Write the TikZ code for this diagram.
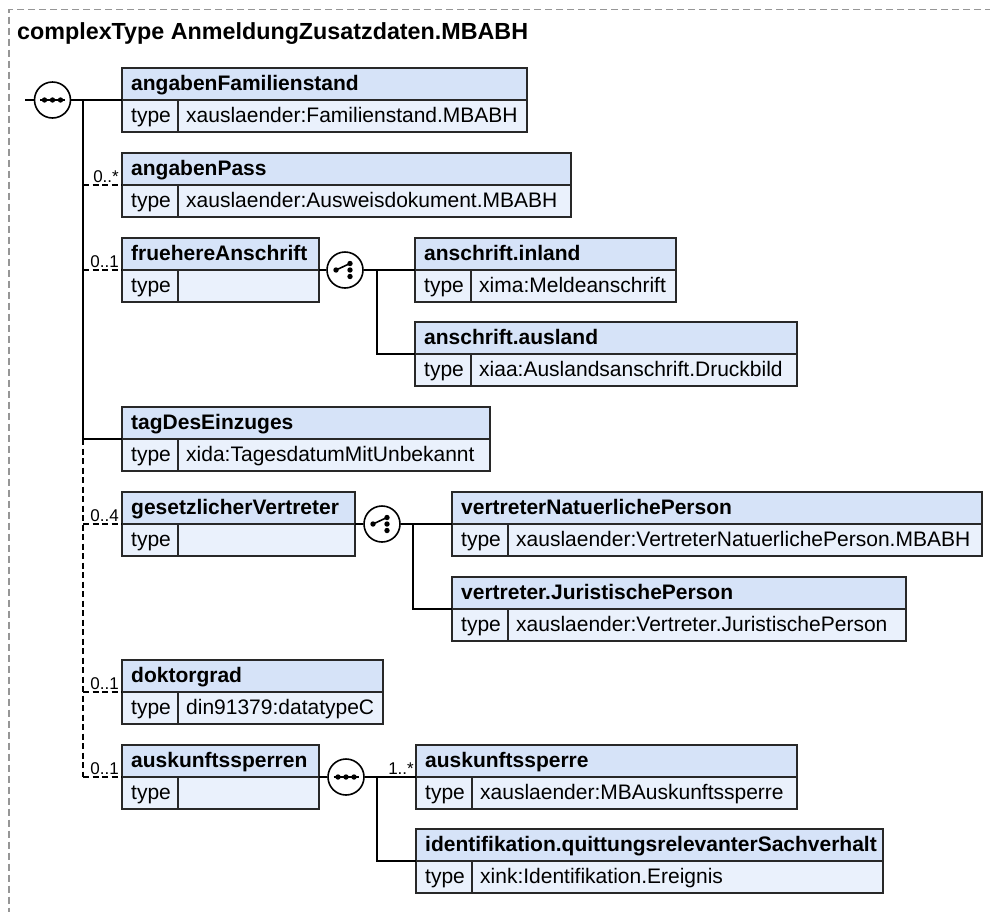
\documentclass[tikz,border=0pt]{standalone}
\usepackage{fontspec}
\setmainfont{Liberation Sans}
\usetikzlibrary{calc}
\definecolor{hdrfill}{RGB}{214,227,248}
\definecolor{rowfill}{RGB}{234,241,252}
\definecolor{boxdraw}{RGB}{40,40,40}
\definecolor{framegray}{RGB}{150,150,150}
\tikzset{
  hdrbox/.style={fill=hdrfill,draw=boxdraw,line width=1.4pt},
  rowbox/.style={fill=rowfill,draw=boxdraw,line width=1.4pt},
  boxline/.style={draw=boxdraw,line width=1.4pt},
  hdrtext/.style={anchor=base west,inner sep=0pt,font=\fontsize{21}{25}\selectfont\bfseries},
  rowtext/.style={anchor=base west,inner sep=0pt,font=\fontsize{21}{25}\selectfont},
  occtext/.style={anchor=base east,inner sep=0pt,font=\fontsize{17}{20}\selectfont},
  conn/.style={draw=black,line width=1.5pt},
  connopt/.style={draw=black,line width=1.5pt,dash pattern=on 6pt off 3.5pt},
  grpc/.style={circle,draw=black,fill=white,line width=1.6pt,minimum size=36pt,inner sep=0pt},
  frameline/.style={draw=framegray,line width=1.2pt,dash pattern=on 7pt off 4pt},
}
\newcommand{\xbox}[6]{%
  \path[hdrbox] (#2,#3) rectangle ({#4},{#3+32});
  \path[rowbox] (#2,{#3+32}) rectangle ({#4},{#3+64});
  \path[boxline] ({#2+56},{#3+32}) -- ({#2+56},{#3+64});
  \node[hdrtext] (#1) at ({#2+9},{#3+22}) {#5};
  \node[rowtext] (#1-t) at ({#2+9},{#3+54}) {type};
  \node[rowtext] (#1-v) at ({#2+64},{#3+54}) {#6};
  \coordinate (#1-w) at (#2,{#3+32});
  \coordinate (#1-e) at ({#4},{#3+32});
}
\newcommand{\seqicon}[1]{%
  \begin{scope}[shift={(#1.center)}]
    \draw[line width=1.6pt] (-12.5,0) -- (12.5,0);
    \fill (-8,0) circle (2.7pt) (0,0) circle (2.7pt) (8,0) circle (2.7pt);
  \end{scope}}
\newcommand{\choiceicon}[1]{%
  \begin{scope}[shift={(#1.center)}]
    \draw[line width=1.6pt] (-9,0) -- (5,-6.5);
    \fill (-9,0) circle (2.7pt) (5,-6.5) circle (2.7pt) (5,0) circle (2.7pt) (5,6.5) circle (2.7pt);
  \end{scope}}
\begin{document}
\begin{tikzpicture}[x=1pt,y=-1pt]
\useasboundingbox (0,0) rectangle (990,911);
% frame
\coordinate (fr-tl) at (9,9.5);
\coordinate (fr-tr) at (992,9.5);
\coordinate (fr-bl) at (9,913);
\draw[frameline] (fr-tr) -- (fr-tl) -- (fr-bl);
\node[anchor=base west,inner sep=0pt,font=\fontsize{23.3}{27}\selectfont\bfseries] (title) at (17,39) {complexType AnmeldungZusatzdaten.MBABH};

% boxes
\xbox{fam}{122}{68}{527}{angabenFamilienstand}{xauslaender:Familienstand.MBABH}
\xbox{pass}{122}{153}{571}{angabenPass}{xauslaender:Ausweisdokument.MBABH}
\xbox{frueh}{122}{238}{319}{fruehereAnschrift}{}
\xbox{inl}{415}{238}{676}{anschrift.inland}{xima:Meldeanschrift}
\xbox{ausl}{415}{322}{797}{anschrift.ausland}{xiaa:Auslandsanschrift.Druckbild}
\xbox{tag}{122}{407}{490}{tagDesEinzuges}{xida:TagesdatumMitUnbekannt}
\xbox{gesetz}{122}{492}{355}{gesetzlicherVertreter}{}
\xbox{vnp}{452}{492}{982}{vertreterNatuerlichePerson}{xauslaender:VertreterNatuerlichePerson.MBABH}
\xbox{vjp}{452}{577}{906}{vertreter.JuristischePerson}{xauslaender:Vertreter.JuristischePerson}
\xbox{dok}{122}{660}{383}{doktorgrad}{din91379:datatypeC}
\xbox{ausks}{122}{745}{319}{auskunftssperren}{}
\xbox{ausk}{416}{745}{797}{auskunftssperre}{xauslaender:MBAuskunftssperre}
\xbox{ident}{416}{829}{883}{identifikation.quittungsrelevanterSachverhalt}{xink:Identifikation.Ereignis}

% top sequence
\coordinate (start) at (25,100);
\node[grpc] (s0) at (52.5,100) {};
\seqicon{s0}
\coordinate (t0) at (83,100);
\coordinate (tT) at (83,439);
\coordinate (tE) at (83,777);
\draw[conn] (start) -- (s0.west);
\draw[conn] (s0.east) -- (fam-w);
\draw[conn] (t0) -- (tT);
\draw[connopt] (tT) -- (tE);
\draw[connopt] (t0 |- pass-w) -- (pass-w);
\draw[connopt] (t0 |- frueh-w) -- (frueh-w);
\draw[conn] (tT) -- (tag-w);
\draw[connopt] (t0 |- gesetz-w) -- (gesetz-w);
\draw[connopt] (t0 |- dok-w) -- (dok-w);
\draw[connopt] (tE) -- (ausks-w);
\node[occtext] (o1) at (119,182) {0..*};
\node[occtext] (o2) at (119,267) {0..1};
\node[occtext] (o3) at (119,521) {0..4};
\node[occtext] (o4) at (119,689) {0..1};
\node[occtext] (o5) at (119,774) {0..1};

% choice fruehereAnschrift
\node[grpc] (c1) at (345,270) {};
\choiceicon{c1}
\coordinate (b1) at (377,270);
\draw[conn] (frueh-e) -- (c1.west);
\draw[conn] (c1.east) -- (inl-w);
\draw[conn] (b1) |- (ausl-w);

% choice gesetzlicherVertreter
\node[grpc] (c2) at (382,524) {};
\choiceicon{c2}
\coordinate (b2) at (413,524);
\draw[conn] (gesetz-e) -- (c2.west);
\draw[conn] (c2.east) -- (vnp-w);
\draw[conn] (b2) |- (vjp-w);

% sequence auskunftssperren
\node[grpc] (s1) at (346,777) {};
\seqicon{s1}
\coordinate (b3) at (377,777);
\draw[conn] (ausks-e) -- (s1.west);
\draw[conn] (s1.east) -- (ausk-w);
\draw[conn] (b3) |- (ident-w);
\node[occtext] (o6) at (414,774) {1..*};
\end{tikzpicture}
\end{document}
